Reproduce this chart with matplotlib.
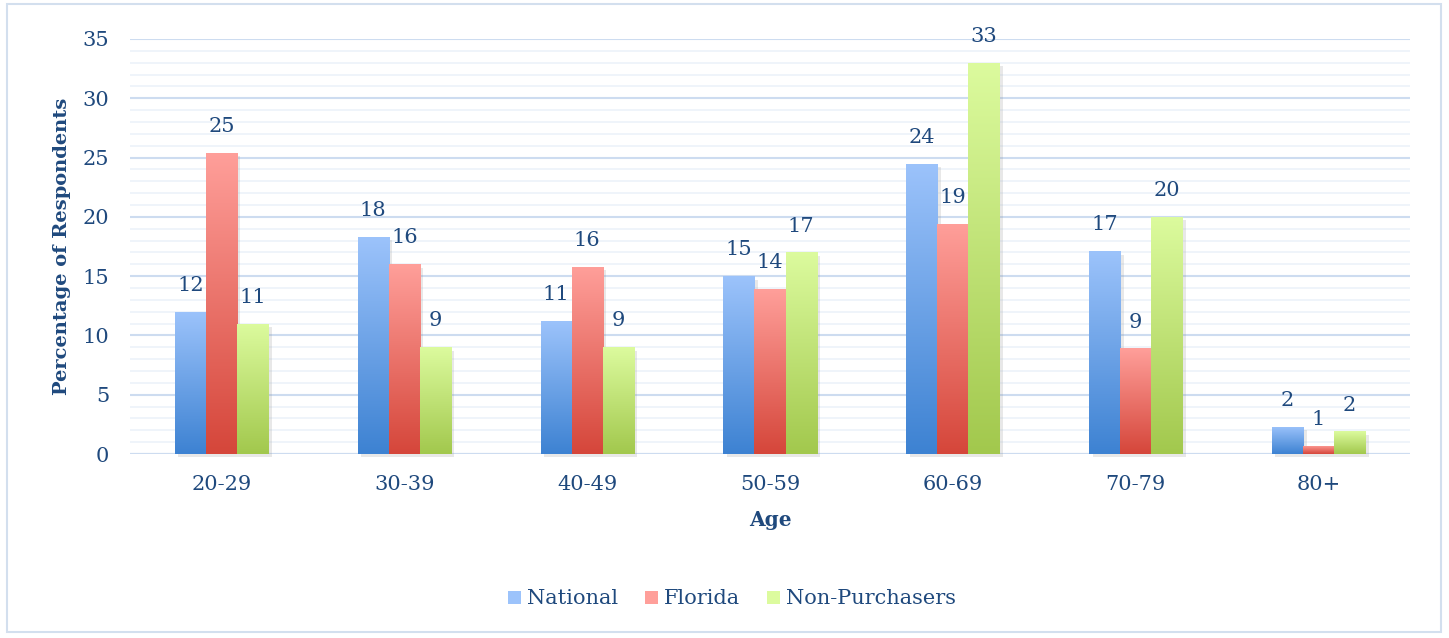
import numpy as np
import matplotlib
matplotlib.use("Agg")
import matplotlib.pyplot as plt
from matplotlib.colors import LinearSegmentedColormap
from matplotlib.patches import Rectangle, Patch
from matplotlib import patheffects as pe

# --- data ---
ages = ["20-29", "30-39", "40-49", "50-59", "60-69", "70-79", "80+"]
national = [12.0, 18.3, 11.2, 15.0, 24.5, 17.1, 2.3]
florida = [25.4, 16.0, 15.8, 13.9, 19.4, 8.9, 0.7]
non_purchasers = [11.0, 9.0, 9.0, 17.0, 33.0, 20.0, 1.9]
labels_nat = [12, 18, 11, 15, 24, 17, 2]
labels_fl = [25, 16, 16, 14, 19, 9, 1]
labels_np = [11, 9, 9, 17, 33, 20, 2]

series = [
    ("National", national, labels_nat, "#9cc3fb", "#3d82d2"),
    ("Florida", florida, labels_fl, "#ff9f9a", "#d5463a"),
    ("Non-Purchasers", non_purchasers, labels_np, "#dcfb9e", "#a2c84d"),
]

TXT = "#1f497d"
plt.rcParams["font.family"] = ["DejaVu Serif"]

fig = plt.figure(figsize=(14.49, 6.38), dpi=100)
ax = fig.add_axes([130 / 1449, 184 / 638, 1280 / 1449, 415 / 638])

# light border around the whole chart
fig.patches.append(Rectangle((7 / 1449, 6 / 638), 1434 / 1449, 628 / 638,
                             transform=fig.transFigure, fill=False,
                             edgecolor="#d3dfee", lw=1.5))

x = np.arange(len(ages))
w = 0.17
grad = np.linspace(1, 0, 256).reshape(-1, 1)
for i, (name, vals, labs, top, bot) in enumerate(series):
    cmap = LinearSegmentedColormap.from_list(name, [bot, top])
    pos = x + (i - 1) * w
    bars = ax.bar(pos, vals, w, color="white", zorder=2, clip_on=False,
                  path_effects=[pe.SimplePatchShadow(offset=(2.5, -2.5),
                                                     shadow_rgbFace="#909090", alpha=0.2),
                                pe.Normal()])
    for b, v, lab in zip(bars, vals, labs):
        im = ax.imshow(grad[::-1], cmap=cmap, aspect="auto", zorder=3,
                       extent=[b.get_x(), b.get_x() + b.get_width(), 0, v],
                       origin="lower", vmin=0, vmax=1)
        im.set_clip_path(b)
        ax.annotate(str(lab), (b.get_x() + b.get_width() / 2, v),
                    xytext=(0, 19), textcoords="offset points",
                    ha="center", va="center", fontsize=15, color=TXT)

ax.set_xlim(-0.5, len(ages) - 0.5)
ax.set_ylim(0, 35)
ax.set_yticks(range(0, 36, 5))
ax.set_yticks(range(0, 36, 1), minor=True)
ax.set_xticks(x)
ax.set_xticklabels(ages)
ax.grid(axis="y", which="major", color="#cddcf0", lw=1.5, zorder=0)
ax.grid(axis="y", which="minor", color="#eef3fa", lw=1.3, zorder=0)
ax.set_axisbelow(True)
for s in ax.spines.values():
    s.set_visible(False)
ax.tick_params(axis="both", which="both", length=0, labelsize=15, colors=TXT)
ax.tick_params(axis="y", pad=15)
ax.tick_params(axis="x", pad=15)
ax.axhline(0, color="#cddcf0", lw=1.5, zorder=1)

ax.set_ylabel("Percentage of Respondents", fontsize=14, fontweight="bold",
              color=TXT, labelpad=8)
ax.set_xlabel("Age", fontsize=14.5, fontweight="bold", color=TXT, labelpad=12)

handles = [Patch(facecolor=top, edgecolor="none", label=name)
           for name, _, _, top, _ in series]
fig.legend(handles=handles, loc="center", bbox_to_anchor=(732 / 1449, 1 - 599 / 638),
           ncol=3, frameon=False, fontsize=15, labelcolor=TXT,
           handlelength=0.6, handleheight=0.6, handletextpad=0.3,
           columnspacing=1.3)

fig.savefig("out.png", dpi=100)
